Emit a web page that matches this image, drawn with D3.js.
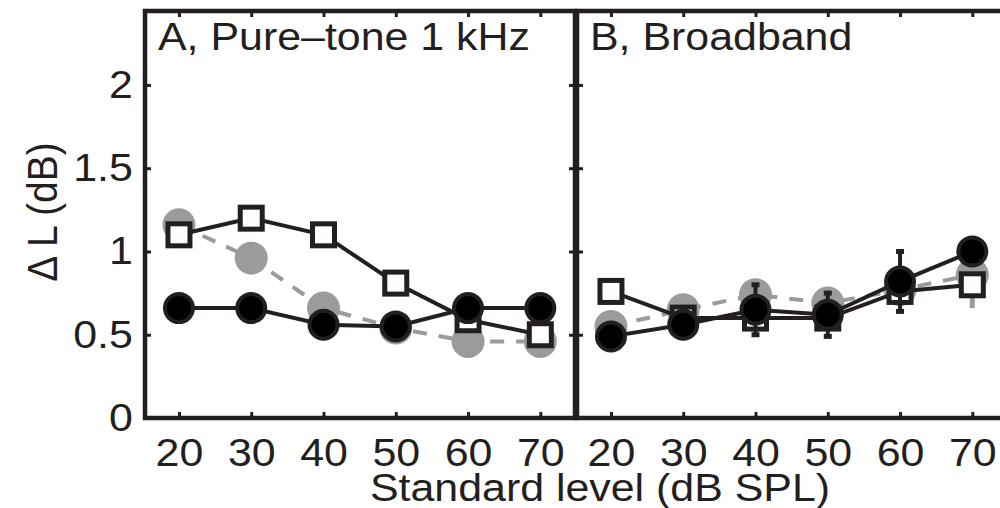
<!DOCTYPE html>
<html>
<head>
<meta charset="utf-8">
<script src="https://cdn.jsdelivr.net/npm/d3@7"></script>
<style>
  body { margin: 0; background: #fff; }
  svg text { font-family: "Liberation Sans", "LiberationSans", Arimo, Roboto, Arial, sans-serif; fill: #231f20; }
</style>
</head>
<body>
<div id="chart"></div>
<script>
// values
var levels = [20, 30, 40, 50, 60, 70];
var yTicks = [0, 0.5, 1, 1.5, 2];

var pureGray   = [1.16, 0.96, 0.66, 0.54, 0.46, 0.46];
var pureSquare = [1.10, 1.20, 1.10, 0.81, 0.59, 0.50];
var pureBlack  = [0.66, 0.66, 0.56, 0.55, 0.66, 0.66];

var broadGray   = [0.55, 0.65, 0.74, 0.69, 0.77, 0.86];
var broadSquare = [0.76, 0.60, 0.60, 0.60, 0.76, 0.80];
var broadBlack  = [0.49, 0.56, 0.65, 0.62, 0.82, 1.00];
var broadBlackErr = [0, 0.03, 0.15, 0.13, 0.18, 0];
var broadGrayErr  = [0, 0, 0, 0, 0, 0.2];

var svgWidth = 1000;
var svgHeight = 508;
var top0 = 11, bottom0 = 418;
var panelW = 430;
var fontSize = 39;
var stretch = 'scale(1.1,1)';
var ink = '#231f20';

var svg = d3.select('#chart')
    .append('svg')
    .attr('width', svgWidth)
    .attr('height', svgHeight);

var y = d3.scaleLinear()
    .domain([0, 2.444])
    .range([bottom0, top0]);

var panels = [
    {left: 145, title: 'A, Pure\u2013tone 1 kHz', gray: pureGray, square: pureSquare, black: pureBlack,
     blackErr: null, grayErr: null, yLabels: true},
    {left: 577, title: 'B, Broadband', gray: broadGray, square: broadSquare, black: broadBlack,
     blackErr: broadBlackErr, grayErr: broadGrayErr, yLabels: false}
];

function rows(vals){
    return levels.map((l, i) => ({x: l, y: vals[i], i: i}));
}

panels.forEach(function(p){
    var x = d3.scaleLinear()
        .domain([15.3, 74.8])
        .range([p.left, p.left + panelW]);

    var g = svg.append('g');
    var line = d3.line().x(d => x(d.x)).y(d => y(d.y));

    // gray dashed series
    g.append('path')
        .datum(rows(p.gray))
        .attr('d', line)
        .attr('fill', 'none')
        .attr('stroke', '#9b9b9b')
        .attr('stroke-width', 4)
        .attr('stroke-dasharray', '14,12');
    if (p.grayErr) {
        g.selectAll('.gerr')
            .data(rows(p.gray).filter(d => p.grayErr[d.i] > 0))
            .enter()
            .append('line')
            .attr('x1', d => x(d.x)).attr('x2', d => x(d.x))
            .attr('y1', d => y(d.y - p.grayErr[d.i])).attr('y2', d => y(d.y + p.grayErr[d.i]))
            .attr('stroke', '#9b9b9b')
            .attr('stroke-width', 5);
    }
    g.selectAll('.gdot')
        .data(rows(p.gray))
        .enter()
        .append('circle')
        .attr('cx', d => x(d.x))
        .attr('cy', d => y(d.y))
        .attr('r', 16.5)
        .attr('fill', '#9b9b9b');

    // squares
    g.append('path')
        .datum(rows(p.square))
        .attr('d', line)
        .attr('fill', 'none')
        .attr('stroke', ink)
        .attr('stroke-width', 4);
    g.selectAll('.sq')
        .data(rows(p.square))
        .enter()
        .append('rect')
        .attr('x', d => x(d.x) - 11)
        .attr('y', d => y(d.y) - 11)
        .attr('width', 22)
        .attr('height', 22)
        .attr('fill', '#fff')
        .attr('stroke', ink)
        .attr('stroke-width', 5);

    // black series
    if (p.blackErr) {
        var eb = rows(p.black).filter(d => p.blackErr[d.i] > 0);
        g.selectAll('.berr')
            .data(eb)
            .enter()
            .append('line')
            .attr('x1', d => x(d.x)).attr('x2', d => x(d.x))
            .attr('y1', d => y(d.y - p.blackErr[d.i])).attr('y2', d => y(d.y + p.blackErr[d.i]))
            .attr('stroke', ink)
            .attr('stroke-width', 4);
        [-1, 1].forEach(function(s){
            g.selectAll('.bcap' + s)
                .data(eb)
                .enter()
                .append('line')
                .attr('x1', d => x(d.x) - 4).attr('x2', d => x(d.x) + 4)
                .attr('y1', d => y(d.y + s * p.blackErr[d.i])).attr('y2', d => y(d.y + s * p.blackErr[d.i]))
                .attr('stroke', ink)
                .attr('stroke-width', 5);
        });
    }
    g.append('path')
        .datum(rows(p.black))
        .attr('d', line)
        .attr('fill', 'none')
        .attr('stroke', ink)
        .attr('stroke-width', 4);
    g.selectAll('.bdot')
        .data(rows(p.black))
        .enter()
        .append('circle')
        .attr('cx', d => x(d.x))
        .attr('cy', d => y(d.y))
        .attr('r', 14)
        .attr('fill', '#000')
        .attr('stroke', ink)
        .attr('stroke-width', 4);

    // axes with inward ticks
    var bottomAxis = svg.append('g')
        .attr('transform', `translate(0,${bottom0})`)
        .call(d3.axisBottom(x).tickValues(levels).tickSize(-6).tickPadding(20));
    var topAxis = svg.append('g')
        .attr('transform', `translate(0,${top0})`)
        .call(d3.axisTop(x).tickValues(levels).tickSize(-6).tickFormat(''));
    var leftAxis = svg.append('g')
        .attr('transform', `translate(${p.left},0)`)
        .call(d3.axisLeft(y).tickValues(yTicks).tickSize(-6).tickPadding(11)
            .tickFormat(p.yLabels ? d3.format('') : ''));
    var rightAxis = svg.append('g')
        .attr('transform', `translate(${p.left + panelW},0)`)
        .call(d3.axisRight(y).tickValues(yTicks).tickSize(-6).tickFormat(''));

    [bottomAxis, topAxis, leftAxis, rightAxis].forEach(function(a){
        a.attr('font-family', null);
        a.select('.domain').remove();
        a.selectAll('.tick line').attr('stroke', ink).attr('stroke-width', 3);
        a.selectAll('.tick text')
            .attr('font-size', fontSize)
            .attr('fill', ink)
            .attr('transform', stretch);
    });

    // frame
    svg.append('rect')
        .attr('x', p.left)
        .attr('y', top0)
        .attr('width', panelW)
        .attr('height', bottom0 - top0)
        .attr('fill', 'none')
        .attr('stroke', ink)
        .attr('stroke-width', 4.5);

    // panel title
    svg.append('text')
        .attr('transform', `translate(${p.left + 13},50) ${stretch}`)
        .attr('font-size', fontSize)
        .text(p.title);
});

// axis labels
svg.append('text')
    .attr('transform', `translate(600,501) ${stretch}`)
    .attr('text-anchor', 'middle')
    .attr('font-size', fontSize)
    .text('Standard level (dB SPL)');

svg.append('text')
    .attr('transform', `translate(57,212) ${stretch} rotate(-90)`)
    .attr('text-anchor', 'middle')
    .attr('font-size', fontSize)
    .text('\u0394 L (dB)');
</script>
</body>
</html>
